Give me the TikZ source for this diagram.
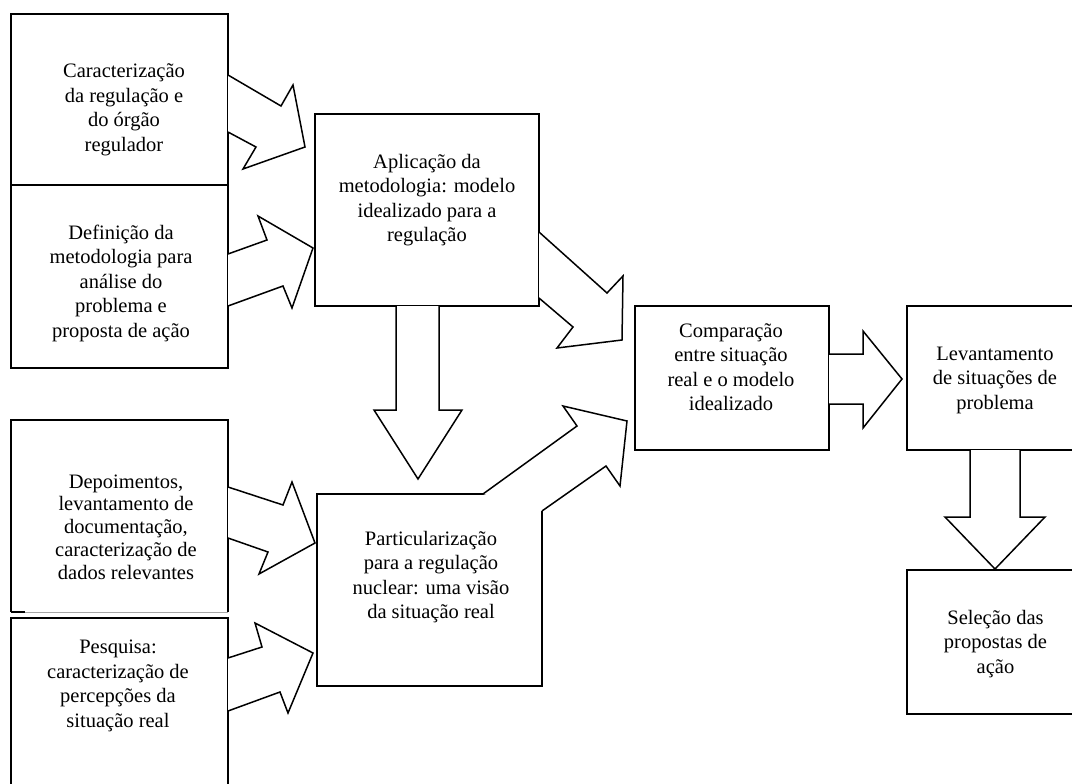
\documentclass[tikz,border=0pt]{standalone}
\usepackage{fontspec}
\setmainfont{Liberation Serif}
\usetikzlibrary{calc}

\begin{document}
\begin{tikzpicture}[x=1pt, y=-1pt,
  box/.style={draw, line width=1.9pt, inner sep=0pt, outer sep=0pt},
  frame/.style={inner sep=0pt, outer sep=0pt},
  txt/.style={align=center, inner sep=0pt, font=\fontsize{20.5}{24.5}\selectfont},
  txttight/.style={txt, font=\fontsize{20.5}{22.8}\selectfont},
  blockarrow/.style={draw, line width=1.5pt, line join=miter, fill=white}]
\useasboundingbox (0,0) rectangle (1072,784);
\clip (0,0) rectangle (1072,784);

% ---- boxes ----
\node[box, minimum width=217pt, minimum height=171pt] (carac) at (119.5,99.5) {};
\node[box, minimum width=217pt, minimum height=183pt] (defin) at (119.5,276.5) {};
\node[frame, minimum width=217pt, minimum height=192pt] (depo) at (119.5,516) {};
\node[box, minimum width=217pt, minimum height=192pt] (pesq) at (119.5,714) {};
\node[box, minimum width=224pt, minimum height=192pt] (aplic) at (427,210) {};
\node[box, minimum width=225pt, minimum height=192pt] (partic) at (429.5,590) {};
\node[box, minimum width=194pt, minimum height=144pt] (compar) at (732,378) {};
\node[box, minimum width=175pt, minimum height=144pt] (levant) at (994.5,378) {};
\node[box, minimum width=175pt, minimum height=144pt] (selec) at (994.5,642) {};

% the testimony box has a broken lower border
\draw[line width=1.9pt] (depo.south west) -- (depo.north west) -- (depo.north east)
  -- ($(depo.north east)+(0,23)$);
\draw[line width=1.1pt] ($(depo.north east)+(0,23)$) -- (depo.south east);
\draw[line width=1.9pt] (depo.south west) -- +(14,0);
\draw[line width=0.8pt, black!35] ($(depo.south west)+(14,0)$) -- (depo.south east);

% ---- texts ----
\node[txt] (t-carac) at (124,110) {Caracterização\\da regulação e\\do órgão\\regulador};
\node[txt] (t-defin) at (121,283) {Definição da\\metodologia para\\análise do\\problema e\\proposta de ação};
\node[txttight] (t-depo) at (126,527) {Depoimentos,\\levantamento de\\documentação,\\caracterização de\\dados relevantes};
\node[txt] (t-pesq) at (118,686) {Pesquisa:\\caracterização de\\percepções da\\situação real};
\node[txt] (t-aplic) at (427,200) {Aplicação da\\metodologia: modelo\\idealizado para a\\regulação};
\node[txt] (t-partic) at (431,577) {Particularização\\para a regulação\\nuclear: uma visão\\da situação real};
\node[txt] (t-compar) at (731,367) {Comparação\\entre situação\\real e o modelo\\idealizado};
\node[txt] (t-levant) at (995,380) {Levantamento\\de situações de\\problema};
\node[txt] (t-selec) at (995.5,644) {Seleção das\\propostas de\\ação};

% ---- block arrows ----
% characterization -> application
\path[blockarrow] (carac.east |- 0,75) -- (281,106) -- (293,85) -- (305,147)
  -- (243,169) -- (256,147) -- (carac.east |- 0,132);
% methodology -> application
\path[blockarrow] (defin.east |- 0,254) -- (267,240) -- (258,216) -- (313,248)
  -- (292,308) -- (283,286) -- (defin.east |- 0,306);
% testimony -> particularization
\path[blockarrow] (depo.east |- 0,487) -- (283,505) -- (292,482) -- (315,543)
  -- (259,574) -- (268,552) -- (depo.east |- 0,538);
% research -> particularization
\path[blockarrow] (pesq.east |- 0,658) -- (262,647) -- (255,623) -- (313,653)
  -- (288,713) -- (280,692) -- (pesq.east |- 0,711);
% application -> particularization
\path[blockarrow] (396,0 |- aplic.south) -- (396,410) -- (374,410) -- (418,479)
  -- (462,410) -- (439,410) -- (439,0 |- aplic.south);
% application -> comparison
\path[blockarrow] (aplic.east |- 0,232) -- (607,293) -- (623,276) -- (622,340)
  -- (557,348) -- (573,327) -- (aplic.east |- 0,298);
% particularization -> comparison
\path[blockarrow] (483,0 |- partic.north) -- (577,426) -- (563,406) -- (627,421)
  -- (620,486) -- (606,466) -- (partic.east |- 0,511);
% comparison -> survey of problems
\path[blockarrow] (compar.east |- 0,354) -- (863,354) -- (863,331) -- (902,379)
  -- (863,428) -- (863,404) -- (compar.east |- 0,404);
% survey of problems -> selection
\path[blockarrow] (970,0 |- levant.south) -- (970,517) -- (945,517) -- (995,569)
  -- (1045,517) -- (1020,517) -- (1020,0 |- levant.south);
\end{tikzpicture}
\end{document}
